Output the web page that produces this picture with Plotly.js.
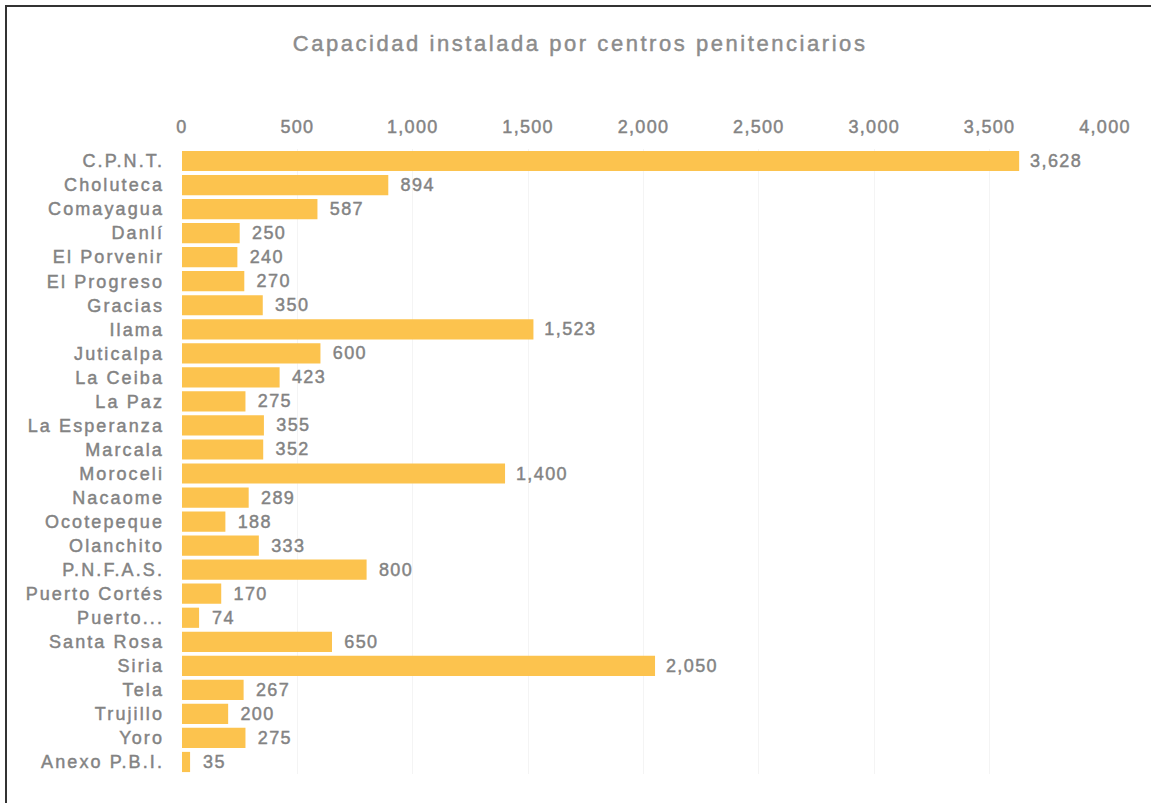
<!DOCTYPE html>
<html>
<head>
<meta charset="utf-8">
<script src="https://cdn.plot.ly/plotly-3.0.1.min.js"></script>
<style>
  html, body { margin: 0; padding: 0; background: #ffffff; }
  #frame { position: absolute; left: 5px; top: 5px; width: 1160px; height: 820px;
           border-left: 2px solid #333; border-top: 2px solid #333; box-sizing: border-box; }
  #chart { position: absolute; left: 0; top: 0; width: 1151px; height: 803px; }
  #chart .ytick text { letter-spacing: 2.1px; stroke: #838383; stroke-width: 0.45px; }
  #chart .xtick text { letter-spacing: 1.3px; stroke: #838383; stroke-width: 0.45px; }
  #chart .bartext { letter-spacing: 1.4px; stroke: #838383; stroke-width: 0.45px; }
  #chart .gtitle { letter-spacing: 2.55px; stroke: #8c8c8c; stroke-width: 0.45px; }
</style>
</head>
<body>
<div id="frame"></div>
<div id="chart"></div>
<script>
const categories = ["C.P.N.T.", "Choluteca", "Comayagua", "Danlí", "El Porvenir", "El Progreso",
  "Gracias", "Ilama", "Juticalpa", "La Ceiba", "La Paz", "La Esperanza", "Marcala", "Moroceli",
  "Nacaome", "Ocotepeque", "Olanchito", "P.N.F.A.S.", "Puerto Cortés", "Puerto...", "Santa Rosa",
  "Siria", "Tela", "Trujillo", "Yoro", "Anexo P.B.I."];
const capacity = [3628, 894, 587, 250, 240, 270, 350, 1523, 600, 423, 275, 355, 352, 1400,
  289, 188, 333, 800, 170, 74, 650, 2050, 267, 200, 275, 35];
const xTicks = [0, 500, 1000, 1500, 2000, 2500, 3000, 3500, 4000];
const chartTitle = "Capacidad instalada por centros penitenciarios";

const gray = '#838383';
const fam = 'Liberation Sans, Arial, sans-serif';
const trace = {
  type: 'bar',
  orientation: 'h',
  y: categories,
  x: capacity,
  marker: { color: '#FCC34E' },
  text: capacity.map(v => '\u00A0\u00A0' + v.toLocaleString('en-US')),
  textposition: 'outside',
  texttemplate: '%{text}',
  textfont: { family: fam, size: 18, color: gray },
  cliponaxis: false,
  hoverinfo: 'x+y'
};

const layout = {
  width: 1151, height: 803,
  paper_bgcolor: 'rgba(0,0,0,0)',
  plot_bgcolor: 'rgba(0,0,0,0)',
  margin: { l: 182, r: 46, t: 149, b: 29 },
  bargap: 0.16,
  showlegend: false,
  title: {
    text: chartTitle,
    font: { family: fam, size: 22, color: '#8c8c8c' },
    x: 0.504, xanchor: 'center', xref: 'container',
    y: 1 - 43 / 803, yanchor: 'middle', yref: 'container'
  },
  xaxis: {
    side: 'top',
    range: [0, 4000],
    tickvals: xTicks,
    ticktext: xTicks.map(v => v.toLocaleString('en-US')),
    showgrid: true,
    gridcolor: '#f4f4f4',
    zeroline: false,
    showline: false,
    ticks: '',
    ticklabelstandoff: 11,
    tickfont: { family: fam, size: 18, color: gray },
    fixedrange: true
  },
  yaxis: {
    type: 'category',
    autorange: 'reversed',
    showgrid: false,
    zeroline: false,
    showline: false,
    ticks: '',
    ticklabelstandoff: 17,
    tickfont: { family: fam, size: 18, color: gray },
    fixedrange: true
  }
};

Plotly.newPlot('chart', [trace], layout, { displayModeBar: false, staticPlot: true });
</script>
</body>
</html>
